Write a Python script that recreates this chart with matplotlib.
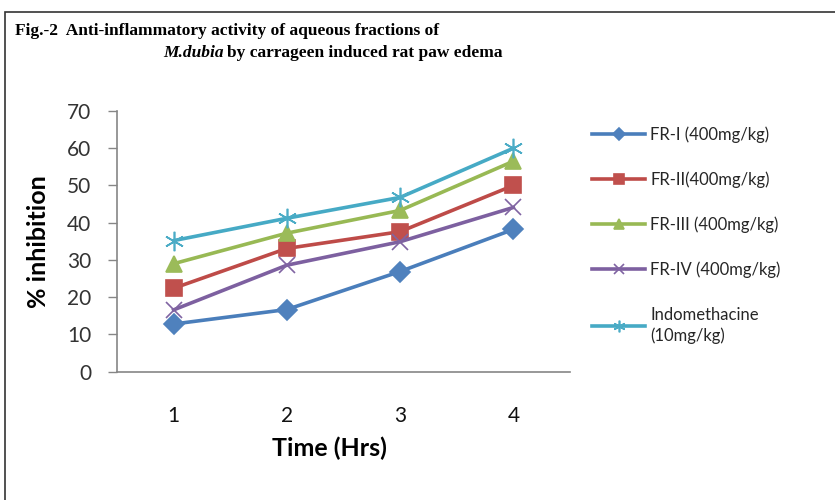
import matplotlib
matplotlib.use("Agg")
import matplotlib.pyplot as plt
from matplotlib.patches import Rectangle

# Data
hours = [1, 2, 3, 4]
series_names = ["FR-I (400mg/kg)", "FR-II(400mg/kg)", "FR-III (400mg/kg)",
                "FR-IV (400mg/kg)", "Indomethacine\n(10mg/kg)"]
fr1 = [12.8, 16.7, 26.9, 38.2]
fr2 = [22.4, 33.1, 37.6, 50.0]
fr3 = [29.0, 37.2, 43.3, 56.5]
fr4 = [16.6, 28.6, 34.9, 44.1]
indo = [35.2, 41.2, 46.8, 60.0]
yticks = [0, 10, 20, 30, 40, 50, 60, 70]

line_colors = ["#4A7EBB", "#BE4B48", "#98B954", "#7D60A0", "#46AAC5"]
marker_colors = ["#4F81BD", "#C0504D", "#9BBB59", "#8064A2", "#4BACC6"]
markers = ["D", "s", "^", "x", (6, 2, 0)]
msizes = [10, 12, 12, 11, 14]

plt.rcParams['font.family'] = ['Lato', 'DejaVu Sans']

fig = plt.figure(figsize=(8.35, 5.0), dpi=100)
ax = fig.add_axes([0.1401, 0.2566, 0.5425, 0.5214])

for vals, name, lc, mc, mk, ms in zip([fr1, fr2, fr3, fr4, indo], series_names,
                                       line_colors, marker_colors, markers, msizes):
    ax.plot(hours, vals, color=lc, lw=2.6, marker=mk, markersize=ms,
            markerfacecolor=mc, markeredgecolor=mc, markeredgewidth=1.2, label=name)

ax.set_xlim(0.5, 4.5)
ax.set_ylim(0, 70)
ax.set_yticks(yticks)
ax.set_xticks(hours)
ax.tick_params(axis='y', length=6.5, width=1, color='#868686', labelsize=15,
               pad=12, labelcolor='#333333')
ax.tick_params(axis='x', length=0, labelsize=15, pad=25, labelcolor='#111111')
for s in ['top', 'right']:
    ax.spines[s].set_visible(False)
for s in ['left', 'bottom']:
    ax.spines[s].set_color('#868686')
    ax.spines[s].set_linewidth(1.2)

ax.set_xlabel("Time (Hrs)", fontsize=18, fontweight='bold', labelpad=7)
ax.xaxis.label.set_x(0.47)
ax.set_ylabel("% inhibition", fontsize=18, fontweight='bold', labelpad=12)

leg = ax.legend(loc='upper left', bbox_to_anchor=(592 / 835, 1 - 126 / 500),
                bbox_transform=fig.transFigure, frameon=False, fontsize=12,
                markerscale=0.6, handlelength=3.2, handletextpad=0.3,
                labelspacing=1.72, borderpad=0, borderaxespad=0)
for t in leg.get_texts():
    t.set_color('#262626')
    t.set_linespacing(1.35)

# title
fig.text(15 / 835, 1 - 31 / 500, "Fig.-2  Anti-inflammatory activity of aqueous fractions of",
         fontsize=12.5, fontweight='bold', family='Liberation Serif', va='center', ha='left')
fig.text(163 / 835, 1 - 53 / 500, "M.dubia",
         fontsize=12.5, fontweight='bold', style='italic', family='Liberation Serif',
         va='center', ha='left')
fig.text(227 / 835, 1 - 53 / 500, "by carrageen induced rat paw edema",
         fontsize=12.5, fontweight='bold', family='Liberation Serif', va='center', ha='left')

# outer frame
fig.patches.append(Rectangle((5 / 835, -0.1), 1.2, 1 - 12 / 500 + 0.1,
                             transform=fig.transFigure, fill=False,
                             edgecolor='#333333', linewidth=1.2))

fig.savefig("out.png", dpi=100)
